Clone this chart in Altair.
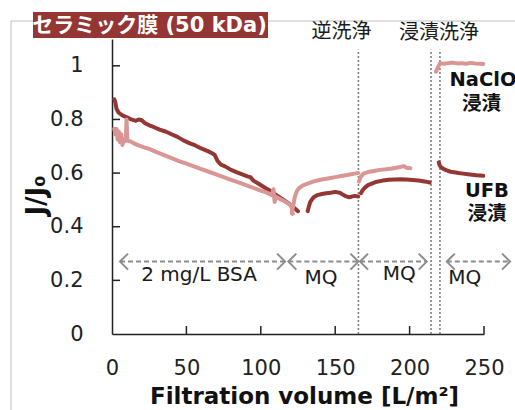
import altair as alt
import pandas as pd

# ---------------- data ----------------
# UFB (dark red) series, 4 filtration segments
ufb1_x = [1.5, 2.2, 3.0, 4.5, 7, 10, 13, 16, 18, 20, 22, 25, 28, 32, 36, 40, 44, 48, 52, 56, 60, 64, 67, 69, 71, 73, 76, 80, 84, 88, 91, 93, 95, 98, 102, 106, 110, 114, 118, 122, 125]
ufb1_y = [0.875, 0.865, 0.84, 0.825, 0.815, 0.808, 0.80, 0.795, 0.80, 0.797, 0.787, 0.778, 0.772, 0.762, 0.755, 0.745, 0.735, 0.722, 0.712, 0.703, 0.692, 0.683, 0.675, 0.668, 0.645, 0.632, 0.625, 0.612, 0.603, 0.594, 0.588, 0.585, 0.572, 0.562, 0.548, 0.535, 0.52, 0.505, 0.49, 0.472, 0.458]
ufb2_x = [131.5, 132.3, 133.2, 134.5, 136, 138, 141, 144, 147, 150, 153, 155, 157, 159, 161, 163, 165.5]
ufb2_y = [0.458, 0.475, 0.492, 0.503, 0.512, 0.518, 0.522, 0.525, 0.527, 0.53, 0.527, 0.52, 0.514, 0.51, 0.512, 0.515, 0.513]
ufb3_x = [167.3, 168.5, 170, 172, 175, 178, 182, 186, 190, 194, 198, 202, 206, 210, 213.5]
ufb3_y = [0.525, 0.537, 0.546, 0.555, 0.562, 0.568, 0.572, 0.575, 0.576, 0.577, 0.576, 0.574, 0.572, 0.569, 0.565]
ufb4_x = [219.6, 220.3, 221.5, 223, 225, 227.5, 230, 233, 236, 239, 242, 245, 249.5]
ufb4_y = [0.64, 0.628, 0.62, 0.615, 0.61, 0.605, 0.603, 0.6, 0.598, 0.596, 0.594, 0.592, 0.59]

# NaClO (light red) series
na1_x = [1.5, 2.3, 3.0, 3.8, 4.6, 5.4, 6.2, 7.0, 8.0, 9.2, 9.8, 10.3, 11, 12.5, 15, 18, 21, 25, 30, 35, 40, 45, 50, 55, 60, 65, 70, 75, 80, 85, 90, 95, 100, 104, 107.5, 108.5, 109.3, 110.2, 113, 116, 118.5, 120.5, 121.5]
na1_y = [0.765, 0.745, 0.765, 0.725, 0.755, 0.715, 0.745, 0.705, 0.725, 0.72, 0.80, 0.725, 0.72, 0.718, 0.71, 0.703, 0.697, 0.69, 0.678, 0.667, 0.656, 0.645, 0.635, 0.625, 0.615, 0.605, 0.595, 0.585, 0.575, 0.565, 0.555, 0.545, 0.535, 0.527, 0.518, 0.54, 0.492, 0.512, 0.503, 0.495, 0.487, 0.478, 0.448]
na2_x = [120.8, 121.8, 122.6, 123.5, 124.5, 126, 128, 131, 135, 140, 145, 150, 155, 160, 163, 165.5]
na2_y = [0.45, 0.478, 0.505, 0.522, 0.535, 0.545, 0.553, 0.56, 0.568, 0.575, 0.58, 0.585, 0.59, 0.595, 0.598, 0.60]
na3_x = [166.0, 167.0, 169, 172, 176, 180, 184, 188, 191, 194, 196, 198, 200.5]
na3_y = [0.568, 0.585, 0.598, 0.604, 0.608, 0.612, 0.614, 0.617, 0.62, 0.623, 0.626, 0.62, 0.618]
na4_x = [217.7, 218.6, 219.6, 220.5, 223, 226, 229, 232, 235, 238, 241, 244, 247, 249.5]
na4_y = [0.978, 0.99, 1.0, 1.01, 1.008, 1.01, 1.012, 1.009, 1.01, 1.008, 1.011, 1.009, 1.008, 1.007]

# cleaning events (dotted lines)
clean_x = [165.6, 214.4, 220.4]
clean_top = 1.06

# phase arrows
arrow_start = [5.4, 118.5, 166.7, 225.0]
arrow_end = [116.3, 165.6, 211.5, 267.5]
arrow_y = 0.27

# phase labels
phase_text = ["2 mg/L BSA", "MQ", "MQ", "MQ"]
phase_x = [58.5, 140.5, 193.0, 237.0]
phase_y = [0.199, 0.187, 0.201, 0.187]

# top labels
top_text = ["逆洗浄", "浸漬洗浄"]
top_x = [154.3, 219.8]
top_y = [1.103, 1.10]

# right-side labels
side_text = ["NaClO", "浸漬", "UFB", "浸漬"]
side_x = [249.3, 248.4, 252.0, 252.0]
side_y = [0.923, 0.836, 0.511, 0.425]

x_ticks = [0, 50, 100, 150, 200, 250]
y_ticks = [0, 0.2, 0.4, 0.6, 0.8, 1.0]

DARK = "#943634"
PINK = "#D99694"
GRAY = "#8c8c8c"
FONT = "DejaVu Sans, Noto Sans CJK JP"

# ---------------- tables ----------------
rows = []
for name, segs in [("UFB", [(ufb1_x, ufb1_y), (ufb2_x, ufb2_y), (ufb3_x, ufb3_y), (ufb4_x, ufb4_y)]),
                   ("NaClO", [(na1_x, na1_y), (na2_x, na2_y), (na3_x, na3_y), (na4_x, na4_y)])]:
    for i, (xs_, ys_) in enumerate(segs):
        for xv, yv in zip(xs_, ys_):
            rows.append({"series": name, "seg": f"{name}{i}", "v": xv, "j": yv})
lines_df = pd.DataFrame(rows)

clean_df = pd.DataFrame({"x": clean_x, "y": [0] * len(clean_x), "y2": [clean_top] * len(clean_x)})
arrow_df = pd.DataFrame({"x": arrow_start, "x2": arrow_end, "y": [arrow_y] * len(arrow_start)})
phase_df = pd.DataFrame({"x": phase_x, "y": phase_y, "t": phase_text})
top_df = pd.DataFrame({"x": top_x, "y": top_y, "t": top_text})
side_df = pd.DataFrame({"x": side_x, "y": side_y, "t": side_text})
xt_df = pd.DataFrame({"x": x_ticks[1:]})
yt_df = pd.DataFrame({"y": y_ticks[1:]})
one = pd.DataFrame({"a": [0]})

xs = alt.Scale(domain=[0, 250], nice=False, zero=False)
ys = alt.Scale(domain=[0, 1.1], nice=False, zero=False)

x_axis = alt.Axis(values=x_ticks, ticks=False, grid=False, labelFontSize=21, labelFont=FONT,
                  labelColor="#222222", labelPadding=23, labelFlush=False, domainColor="#222222",
                  domainWidth=1.5, title="Filtration volume [L/m²]", titleFontSize=23, titleFont=FONT,
                  titleFontWeight="bold", titleColor="#111111", titleX=192, titleY=69,
                  titleAlign="center", titleBaseline="alphabetic")
y_axis = alt.Axis(values=y_ticks, ticks=False, grid=False, format=".1~f", labelFontSize=21,
                  labelFont=FONT, labelColor="#222222", labelPadding=29, labelFlush=False,
                  domainColor="#222222", domainWidth=1.5, title="J/J₀", titleFontSize=26,
                  titleFont=FONT, titleFontWeight="bold", titleColor="#111111", titleX=-68,
                  titleY=156, titleAlign="center", titleBaseline="alphabetic", titleAngle=270)

frame = alt.Chart(one).mark_rect(fillOpacity=0, stroke="#c0c0c0", strokeWidth=1).encode(
    x=alt.value(-101), x2=alt.value(700), y=alt.value(-18), y2=alt.value(700))
title_box = alt.Chart(one).mark_rect(color=DARK).encode(
    x=alt.value(-79), x2=alt.value(156), y=alt.value(-27), y2=alt.value(-1))
title_text = alt.Chart(one).mark_text(text="セラミック膜 (50 kDa)", font=FONT, fontSize=21,
                                      fontWeight="bold", color="white", align="center",
                                      baseline="alphabetic").encode(x=alt.value(37.5), y=alt.value(-7))

lines = alt.Chart(lines_df).mark_line(strokeWidth=4, strokeCap="round", strokeJoin="round", clip=False).encode(
    x=alt.X("v:Q", scale=xs, axis=x_axis),
    y=alt.Y("j:Q", scale=ys, axis=y_axis),
    color=alt.Color("series:N", scale=alt.Scale(domain=["UFB", "NaClO"], range=[DARK, PINK]), legend=None),
    detail="seg:N",
)
lines_ufb = lines.transform_filter("datum.series == 'UFB'")
lines_na = lines.transform_filter("datum.series == 'NaClO'")

clean = alt.Chart(clean_df).mark_rule(strokeDash=[2, 2], strokeWidth=1.6, color="#7f7f7f").encode(
    x=alt.X("x:Q", scale=xs), y=alt.Y("y:Q", scale=ys), y2="y2:Q")

arrows = alt.Chart(arrow_df).mark_rule(strokeDash=[5, 3], strokeWidth=2, color=GRAY).encode(
    x=alt.X("x:Q", scale=xs), x2="x2:Q", y=alt.Y("y:Q", scale=ys))
left_heads = alt.Chart(arrow_df).mark_point(shape="M 2 -2 L 0 0 L 2 2", filled=False, size=64,
                                           strokeWidth=2, color=GRAY, opacity=1).encode(
    x=alt.X("x:Q", scale=xs), y=alt.Y("y:Q", scale=ys))
right_heads = alt.Chart(arrow_df).mark_point(shape="M -2 -2 L 0 0 L -2 2", filled=False, size=64,
                                            strokeWidth=2, color=GRAY, opacity=1).encode(
    x=alt.X("x2:Q", scale=xs), y=alt.Y("y:Q", scale=ys))

phase = alt.Chart(phase_df).mark_text(font=FONT, fontSize=20, color="#1a1a1a", align="center",
                                      baseline="alphabetic").encode(
    x=alt.X("x:Q", scale=xs), y=alt.Y("y:Q", scale=ys), text="t:N")
top = alt.Chart(top_df).mark_text(font=FONT, fontSize=20, color="#1a1a1a", align="center",
                                  baseline="alphabetic").encode(
    x=alt.X("x:Q", scale=xs), y=alt.Y("y:Q", scale=ys), text="t:N")
side = alt.Chart(side_df).mark_text(font=FONT, fontSize=19.5, fontWeight="bold", color="#111111",
                                    align="center", baseline="alphabetic").encode(
    x=alt.X("x:Q", scale=xs), y=alt.Y("y:Q", scale=ys), text="t:N")

xticks = alt.Chart(xt_df).mark_rule(color="#222222", strokeWidth=1.5).encode(
    x=alt.X("x:Q", scale=xs), y=alt.value(295), y2=alt.value(287))
yticks = alt.Chart(yt_df).mark_rule(color="#222222", strokeWidth=1.5).encode(
    y=alt.Y("y:Q", scale=ys), x=alt.value(0), x2=alt.value(8))

chart = alt.layer(
    frame, title_box, title_text, clean, arrows, left_heads, right_heads,
    lines_ufb, lines_na, phase, top, side, xticks, yticks
).properties(
    width=372, height=295,
    padding={"left": 112, "top": 39, "right": 31, "bottom": 76},
    autosize=alt.AutoSizeParams(type="none"),
    background="white",
).configure_view(strokeWidth=0)

chart.save("out.html", embed_options={"renderer": "svg", "actions": False})
